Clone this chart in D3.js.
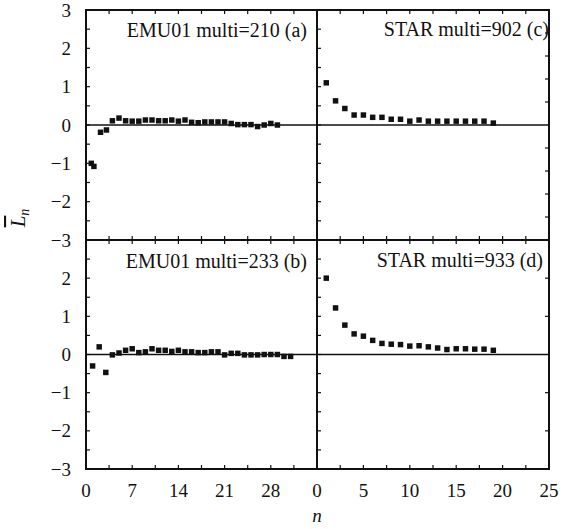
<!DOCTYPE html>
<html>
<head>
<meta charset="utf-8">
<script src="https://cdn.jsdelivr.net/npm/d3@7"></script>
<style>
  html, body { margin: 0; padding: 0; background: #fff; }
</style>
</head>
<body>
<div id="chart"></div>
<script>
const width = 562;
const height = 529;
const serif = "'Liberation Serif'";

// panel (a) EMU01 multi=210
const nA = [0.8, 1.2, 2.2, 3.1, 4, 5, 6, 7, 8, 9, 10, 11, 12, 13, 14, 15, 16, 17, 18, 19, 20, 21, 22, 23, 24, 25, 26, 27, 28, 29];
const lA = [-1.0, -1.08, -0.19, -0.13, 0.11, 0.18, 0.11, 0.1, 0.1, 0.13, 0.13, 0.11, 0.11, 0.13, 0.1, 0.13, 0.07, 0.06, 0.08, 0.08, 0.08, 0.08, 0.04, 0.01, 0.01, 0.01, -0.04, 0.0, 0.04, 0.0];

// panel (b) EMU01 multi=233
const nB = d3.range(1, 32);
const lB = [-0.3, 0.2, -0.47, -0.01, 0.04, 0.11, 0.15, 0.05, 0.07, 0.15, 0.11, 0.11, 0.08, 0.11, 0.07, 0.07, 0.05, 0.05, 0.07, 0.07, -0.01, 0.03, 0.03, -0.01, -0.01, -0.01, 0.0, 0.0, 0.0, -0.05, -0.05];

// panel (c) STAR multi=902
const nC = d3.range(1, 20);
const lC = [1.1, 0.63, 0.43, 0.26, 0.26, 0.2, 0.2, 0.15, 0.15, 0.1, 0.13, 0.1, 0.1, 0.1, 0.1, 0.1, 0.1, 0.1, 0.05];

// panel (d) STAR multi=933
const nD = d3.range(1, 20);
const lD = [2.0, 1.22, 0.77, 0.54, 0.48, 0.37, 0.29, 0.27, 0.26, 0.22, 0.23, 0.2, 0.17, 0.13, 0.15, 0.15, 0.14, 0.14, 0.11];

const leftTicks = [0, 7, 14, 21, 28];
const rightTicks = [0, 5, 10, 15, 20, 25];
const yTicks = [3, 2, 1, 0, -1, -2, -3];

const frame = { left: 86, mid: 317, right: 549, top: 10, split: 240, bottom: 469 };

const svg = d3.select("#chart").append("svg")
  .attr("width", width)
  .attr("height", height);

const xLeft = d3.scaleLinear().domain([0, 35]).range([frame.left, frame.mid]);
const xRight = d3.scaleLinear().domain([0, 25]).range([frame.mid, frame.right]);
const yTop = d3.scaleLinear().domain([-3, 3]).range([frame.split, frame.top]);
const yBot = d3.scaleLinear().domain([-3, 3]).range([frame.bottom, frame.split]);

const panels = [
  { n: nA, l: lA, x: xLeft, y: yTop, label: "EMU01 multi=210 (a)", lx: 307, ly: 37, xstep: 3.5, rstep: 0.5, side: "left" },
  { n: nB, l: lB, x: xLeft, y: yBot, label: "EMU01 multi=233 (b)", lx: 307, ly: 268, xstep: 3.5, rstep: 0.5, side: "left" },
  { n: nC, l: lC, x: xRight, y: yTop, label: "STAR multi=902 (c)", lx: 549, ly: 36, xstep: 2.5, rstep: 0.6, side: "right" },
  { n: nD, l: lD, x: xRight, y: yBot, label: "STAR multi=933 (d)", lx: 543, ly: 267, xstep: 2.5, rstep: 1, side: "right" }
];

const tickLen = 4;
const square = d3.symbol().type(d3.symbolSquare).size(30);

panels.forEach(p => {
  const g = svg.append("g");
  const [x0, x1] = p.x.range();
  const [y0, y1] = p.y.range(); // y0 bottom, y1 top
  const xd = p.x.domain();

  // inward ticks top and bottom
  const xt = d3.range(xd[0] + p.xstep, xd[1] - 0.01, p.xstep);
  g.selectAll(".xtb").data(xt).join("line")
    .attr("x1", d => p.x(d)).attr("x2", d => p.x(d))
    .attr("y1", y0).attr("y2", y0 - tickLen)
    .attr("stroke", "#111").attr("stroke-width", 1.2);
  g.selectAll(".xtt").data(xt).join("line")
    .attr("x1", d => p.x(d)).attr("x2", d => p.x(d))
    .attr("y1", y1).attr("y2", y1 + tickLen)
    .attr("stroke", "#111").attr("stroke-width", 1.2);

  // inward ticks on left edge, every 0.5
  const yt = d3.range(-2.5, 2.6, 0.5);
  g.selectAll(".ytl").data(yt).join("line")
    .attr("x1", x0).attr("x2", x0 + tickLen)
    .attr("y1", d => p.y(d)).attr("y2", d => p.y(d))
    .attr("stroke", "#111").attr("stroke-width", 1.2);

  // right edge ticks
  const rt = d3.range(-3 + p.rstep, 3 - 0.01, p.rstep).filter(d => Math.abs(d) > 0.01);
  if (p.side === "right") {
    g.selectAll(".ytr").data(rt).join("line")
      .attr("x1", x1).attr("x2", x1 - tickLen)
      .attr("y1", d => p.y(d)).attr("y2", d => p.y(d))
      .attr("stroke", "#111").attr("stroke-width", 1.2);
  }

  // zero line
  g.append("line")
    .attr("x1", x0).attr("x2", x1)
    .attr("y1", p.y(0)).attr("y2", p.y(0))
    .attr("stroke", "#111").attr("stroke-width", 1.5);

  // frame
  g.append("rect")
    .attr("x", x0).attr("y", y1)
    .attr("width", x1 - x0).attr("height", y0 - y1)
    .attr("fill", "none").attr("stroke", "#111").attr("stroke-width", 2);

  // points
  g.selectAll(".pt").data(p.n.map((n, i) => ({ n, l: p.l[i] }))).join("path")
    .attr("d", square)
    .attr("transform", d => `translate(${p.x(d.n)},${p.y(d.l)})`)
    .attr("fill", "#111");

  g.append("text")
    .attr("x", p.lx).attr("y", p.ly)
    .attr("text-anchor", "end")
    .attr("font-family", serif)
    .attr("font-size", 20)
    .attr("fill", "#111")
    .text(p.label);
});

// y tick labels
const yLabels = [
  ...yTicks.map(v => ({ v, s: yTop })),
  ...yTicks.filter(v => v !== 3).map(v => ({ v, s: yBot }))
];
svg.selectAll(".ylab").data(yLabels).join("text")
  .attr("x", 71)
  .attr("y", d => d.s(d.v))
  .attr("dy", "0.35em")
  .attr("text-anchor", "end")
  .attr("font-family", serif)
  .attr("font-size", 19)
  .attr("fill", "#111")
  .text(d => d.v < 0 ? "\u2212" + Math.abs(d.v) : d.v);

// x tick labels
const xLabels = [
  ...leftTicks.map(v => ({ v, s: xLeft })),
  ...rightTicks.map(v => ({ v, s: xRight }))
];
svg.selectAll(".xlab").data(xLabels).join("text")
  .attr("x", d => d.s(d.v))
  .attr("y", 497)
  .attr("text-anchor", "middle")
  .attr("font-family", serif)
  .attr("font-size", 19)
  .attr("fill", "#111")
  .text(d => d.v);

// axis titles
svg.append("text")
  .attr("x", 317).attr("y", 522)
  .attr("text-anchor", "middle")
  .attr("font-family", serif)
  .attr("font-size", 19)
  .attr("font-style", "italic")
  .attr("fill", "#111")
  .text("n");

const yt = svg.append("text")
  .attr("transform", "translate(25,218) rotate(-90)")
  .attr("text-anchor", "middle")
  .attr("font-family", serif)
  .attr("font-size", 21)
  .attr("font-style", "italic")
  .attr("fill", "#111");
yt.append("tspan").style("text-decoration", "overline").text("L");
yt.append("tspan").attr("font-size", 14).attr("dy", 4).text("n");
</script>
</body>
</html>
